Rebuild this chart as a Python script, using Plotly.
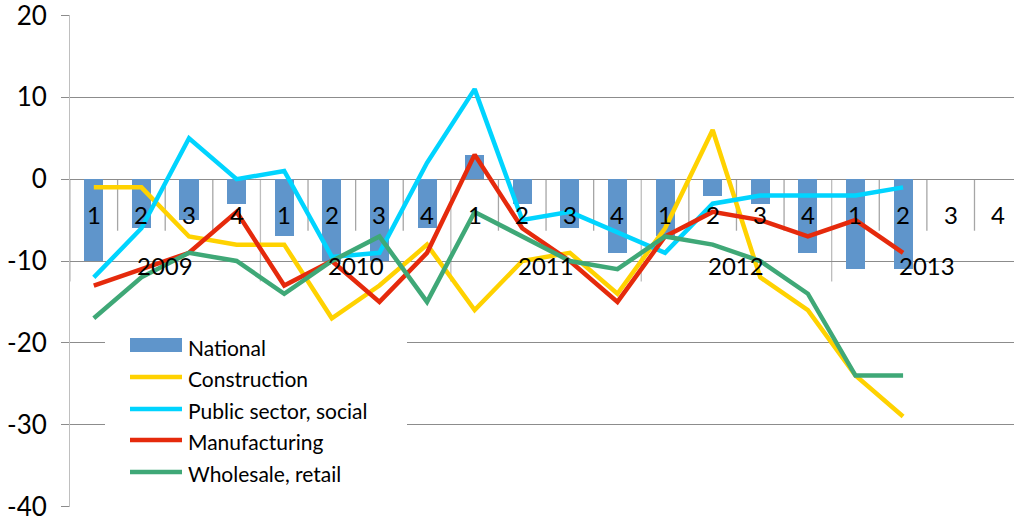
import plotly.graph_objects as go

# Quarterly balance figures, 2009 Q1 - 2013 Q4
years = ["2009", "2010", "2011", "2012", "2013"]
quarters = ["1", "2", "3", "4"]
categories = [f"{y} Q{q}" for y in years for q in quarters]

national = [-10, -6, -5, -3, -7, -10, -10, -6, 3, -3, -6, -9, -7, -2, -3, -9, -11, -11]
construction = [-1, -1, -7, -8, -8, -17, -13, -8, -16, -10, -9, -14, -6, 6, -12, -16, -24, -29]
public_sector = [-12, -6, 5, 0, 1, -9.5, -9, 2, 11, -5, -4, -6.5, -9, -3, -2, -2, -2, -1]
manufacturing = [-13, -11, -9, -4, -13, -10, -15, -9, 3, -6, -10, -15, -7, -4, -5, -7, -5, -9]
wholesale = [-17, -12, -9, -10, -14, -10, -7, -15, -4, -7, -10, -11, -7, -8, -10, -14, -24, -24]

y_ticks = [-40, -30, -20, -10, 0, 10, 20]
y_tick_text = ["-40", "-30", "-20", "-10", "0", "10", "20"]

series = [
    ("Construction", construction, "#FFD200"),
    ("Public sector, social", public_sector, "#00D4FF"),
    ("Manufacturing", manufacturing, "#E52A0C"),
    ("Wholesale, retail", wholesale, "#3FA877"),
]
bar_color = "#5F95CB"

W, H = 1014, 522
ML, MR, MT, MB = 70, 0, 15, 15
FONT = "Lato"
Y_LO, Y_HI = -40.06, 20.06

x_idx = list(range(len(categories)))

fig = go.Figure()
fig.add_trace(go.Bar(x=x_idx[:len(national)], y=national, name="National",
                     marker=dict(color=bar_color, line=dict(width=0)),
                     width=0.4, showlegend=False))
for name, vals, col in series:
    fig.add_trace(go.Scatter(x=x_idx[:len(vals)], y=vals, name=name, mode="lines",
                             line=dict(color=col, width=4.5), showlegend=False))


def px_x(p):
    return (p - ML) / (W - ML - MR)


def px_y(p):
    return (H - MB - p) / (H - MT - MB)


shapes = []
# category tick marks hanging below the zero line; longer ones between years
for k in range(-1, len(categories)):
    b = k + 0.5
    long_tick = (k + 1) % len(quarters) == 0
    shapes.append(dict(type="line", xref="x", yref="y", x0=b, x1=b, y0=0,
                       y1=-12.5 if long_tick else -6.3,
                       line=dict(color="#BDBDBD" if long_tick else "#A6A6A6", width=1.3),
                       layer="below"))

annotations = []
for i, cat in enumerate(categories):
    q = quarters[i % len(quarters)]
    annotations.append(dict(x=i, y=-4.3, xref="x", yref="y", text=q, showarrow=False,
                            font=dict(family=FONT, size=24, color="#000")))
for j, yr in enumerate(years):
    annotations.append(dict(x=j * len(quarters) + 1.5, y=-10.6, xref="x", yref="y", text=yr,
                            showarrow=False, font=dict(family=FONT, size=24, color="#000")))

# legend box
shapes.append(dict(type="rect", xref="paper", yref="paper",
                   x0=px_x(105), x1=px_x(407), y0=px_y(497), y1=px_y(326),
                   fillcolor="white", line=dict(width=0), layer="above"))
leg_rows = [346, 377, 409, 440, 472]
shapes.append(dict(type="rect", xref="paper", yref="paper",
                   x0=px_x(130), x1=px_x(182), y0=px_y(352), y1=px_y(338),
                   fillcolor=bar_color, line=dict(width=0), layer="above"))
annotations.append(dict(x=px_x(186), y=px_y(leg_rows[0] + 1), xref="paper", yref="paper",
                        text="National", showarrow=False, xanchor="left", yanchor="middle",
                        font=dict(family=FONT, size=21, color="#000")))
for (name, _, col), yy in zip(series, leg_rows[1:]):
    shapes.append(dict(type="line", xref="paper", yref="paper",
                       x0=px_x(130), x1=px_x(182), y0=px_y(yy), y1=px_y(yy),
                       line=dict(color=col, width=4.5), layer="above"))
    annotations.append(dict(x=px_x(186), y=px_y(yy + 1), xref="paper", yref="paper",
                            text=name, showarrow=False, xanchor="left", yanchor="middle",
                            font=dict(family=FONT, size=21, color="#000")))

fig.update_layout(
    width=W, height=H,
    margin=dict(l=ML, r=MR, t=MT, b=MB),
    paper_bgcolor="white", plot_bgcolor="white",
    bargap=0,
    shapes=shapes, annotations=annotations,
    xaxis=dict(range=[-0.5, 19.33], showgrid=False, zeroline=False, showticklabels=False,
               ticks="", showline=False, fixedrange=True),
    yaxis=dict(range=[Y_LO, Y_HI], tickvals=y_ticks, ticktext=y_tick_text,
               showgrid=True, gridcolor="#8C8C8C",
               gridwidth=1, zeroline=False, showline=True, linecolor="#BFBFBF", linewidth=1,
               ticks="outside", ticklen=8, tickcolor="#8C8C8C",
               tickfont=dict(family=FONT, size=26, color="#000"), ticklabelstandoff=9,
               ticklabeloverflow="allow"),
)

fig.write_html("out.html")
